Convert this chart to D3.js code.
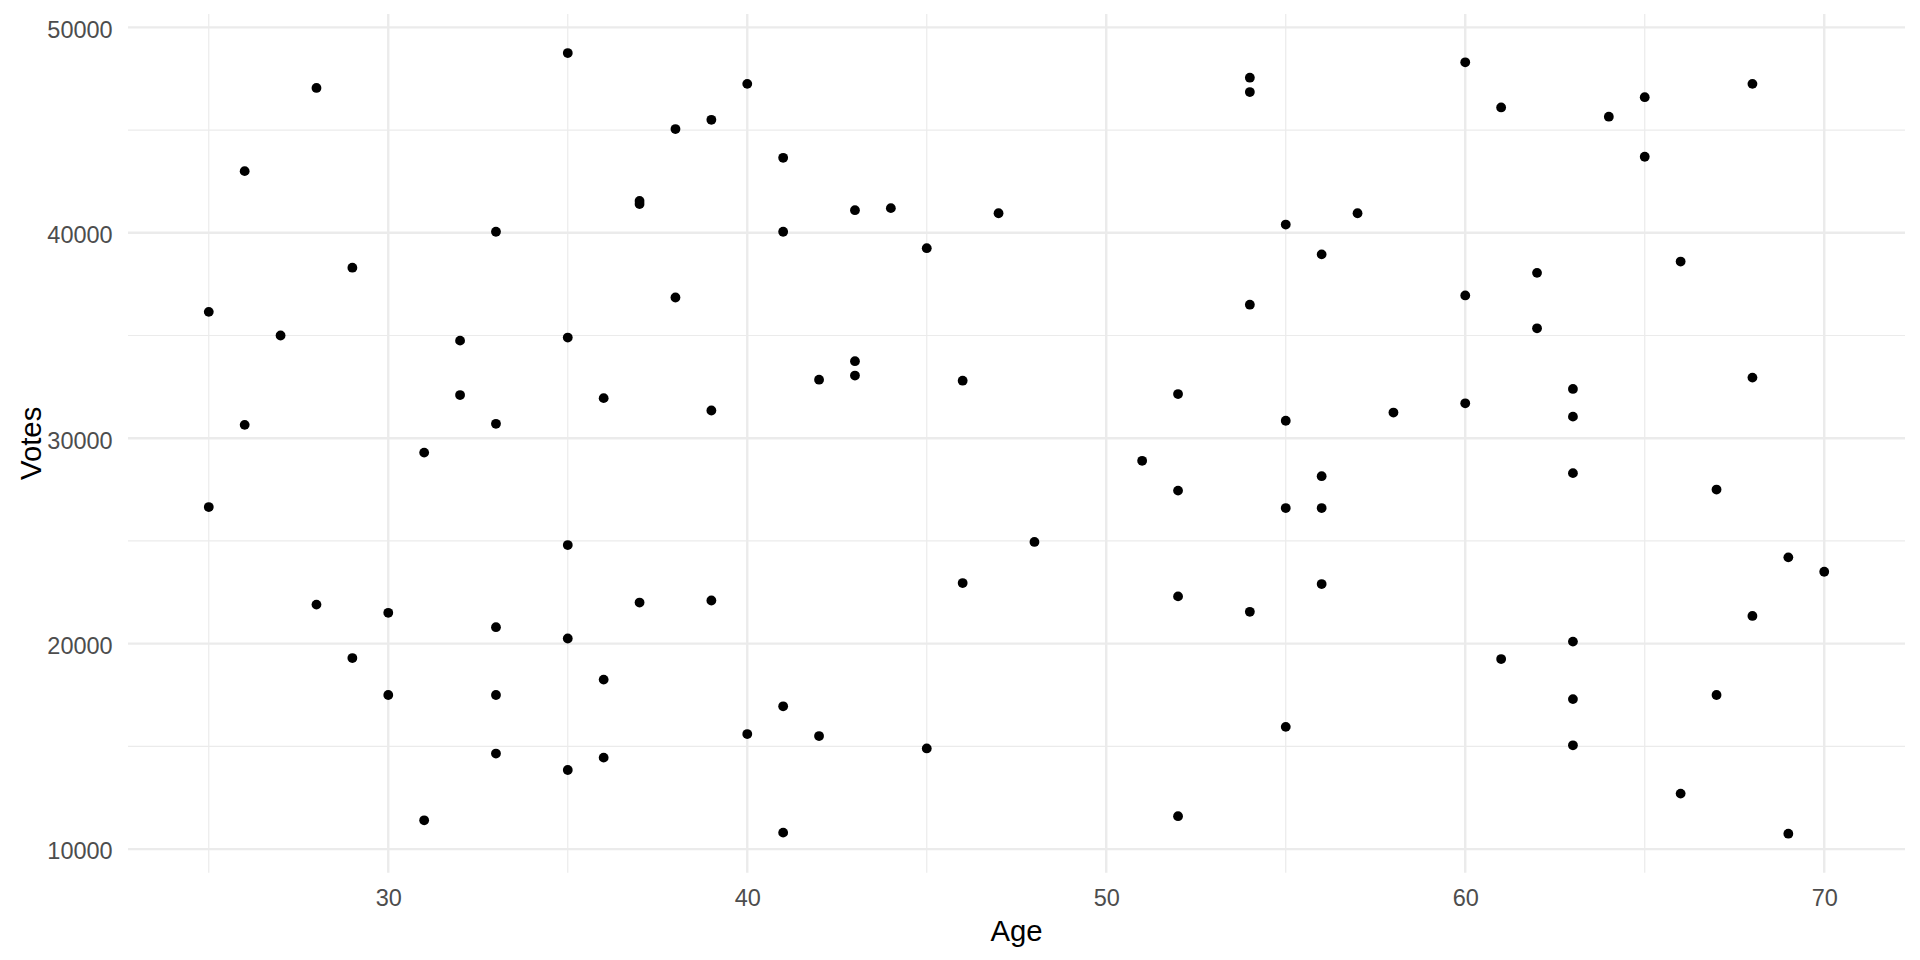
<!DOCTYPE html>
<html>
<head>
<meta charset="utf-8">
<script src="https://cdn.jsdelivr.net/npm/d3@7"></script>
<style>
    html, body { margin: 0; padding: 0; background: #ffffff; }
    svg { display: block; font-family: "Liberation Sans", Arial, sans-serif; }
</style>
</head>
<body>
<svg id="scatter_svg"></svg>
<script>
// ages and votes, one entry per point
const ages = [
    25, 25, 26, 26, 27, 28, 28, 29, 29, 30, 30, 31, 31, 32, 32,
    33, 33, 33, 33, 33, 35, 35, 35, 35, 35, 36, 36, 36, 37, 37, 37,
    38, 38, 39, 39, 39, 40, 40, 41, 41, 41, 41, 42, 42, 43, 43, 43,
    44, 45, 45, 46, 46, 47, 48, 51, 52, 52, 52, 52, 54, 54, 54, 54,
    55, 55, 55, 55, 56, 56, 56, 56, 57, 58, 60, 60, 60, 61, 61, 62, 62,
    63, 63, 63, 63, 63, 63, 64, 65, 65, 66, 66, 67, 67, 68, 68, 68,
    69, 69, 70
];
const votes = [
    36150, 26650, 43000, 30650, 35000, 47050, 21900, 38300, 19300, 21500, 17500, 29300, 11400, 34750, 32100,
    40050, 30700, 20800, 17500, 14650, 48750, 34900, 24800, 20250, 13850, 31950, 18250, 14450, 41550, 41400, 22000,
    45050, 36850, 45500, 31350, 22100, 47250, 15600, 43650, 40050, 16950, 10800, 32850, 15500, 41100, 33750, 33050,
    41200, 39250, 14900, 32800, 22950, 40950, 24950, 28900, 32150, 27450, 22300, 11600, 47550, 46850, 36500, 21550,
    40400, 30850, 26600, 15950, 38950, 28150, 26600, 22900, 40950, 31250, 48300, 36950, 31700, 46100, 19250, 38050, 35350,
    32400, 31050, 28300, 20100, 17300, 15050, 45650, 46600, 43700, 38600, 12700, 27500, 17500, 47250, 32950, 21350,
    24200, 10750, 23500
];

const xMajor = [30, 40, 50, 60, 70];
const xMinor = [25, 35, 45, 55, 65];
const yMajor = [10000, 20000, 30000, 40000, 50000];
const yMinor = [15000, 25000, 35000, 45000];

const points = ages.map((a, i) => ({ age: a, votes: votes[i] }));

drawScatter(points);

function expand(extent) {
    const pad = (extent[1] - extent[0]) * 0.05;
    return [extent[0] - pad, extent[1] + pad];
}

function drawScatter(data) {
    const width = 1920;
    const height = 960;
    const margin = { top: 14, right: 15, bottom: 87.3, left: 128 };
    const innerW = width - margin.left - margin.right;
    const innerH = height - margin.top - margin.bottom;

    const svg = d3.select("#scatter_svg")
        .attr("width", width)
        .attr("height", height);

    const g = svg.append("g")
        .attr("transform", `translate(${margin.left},${margin.top})`);

    const xscale = d3.scaleLinear()
        .domain(expand(d3.extent(data, d => d.age)))
        .range([0, innerW]);

    const yscale = d3.scaleLinear()
        .domain(expand(d3.extent(data, d => d.votes)))
        .range([innerH, 0]);

    // minor grid first, major on top
    g.selectAll(".xminor")
        .data(xMinor)
        .enter().append("line")
        .attr("x1", d => xscale(d)).attr("x2", d => xscale(d))
        .attr("y1", 0).attr("y2", innerH)
        .attr("stroke", "#ebebeb")
        .attr("stroke-width", 1.2);

    g.selectAll(".yminor")
        .data(yMinor)
        .enter().append("line")
        .attr("x1", 0).attr("x2", innerW)
        .attr("y1", d => yscale(d)).attr("y2", d => yscale(d))
        .attr("stroke", "#ebebeb")
        .attr("stroke-width", 1.2);

    g.selectAll(".xmajor")
        .data(xMajor)
        .enter().append("line")
        .attr("x1", d => xscale(d)).attr("x2", d => xscale(d))
        .attr("y1", 0).attr("y2", innerH)
        .attr("stroke", "#ebebeb")
        .attr("stroke-width", 2.4);

    g.selectAll(".ymajor")
        .data(yMajor)
        .enter().append("line")
        .attr("x1", 0).attr("x2", innerW)
        .attr("y1", d => yscale(d)).attr("y2", d => yscale(d))
        .attr("stroke", "#ebebeb")
        .attr("stroke-width", 2.4);

    // axes: labels only, no domain or ticks (theme_minimal look)
    const xAxis = g.append("g")
        .attr("transform", `translate(0,${innerH})`)
        .call(d3.axisBottom(xscale).tickValues(xMajor).tickSize(0).tickPadding(0).tickFormat(d3.format("d")));
    xAxis.select(".domain").remove();
    xAxis.selectAll("text")
        .attr("y", 33.5)
        .attr("dy", null)
        .style("font-size", "23.5px")
        .style("font-family", "'Liberation Sans', Arial, sans-serif")
        .attr("fill", "#4d4d4d");

    const yAxis = g.append("g")
        .call(d3.axisLeft(yscale).tickValues(yMajor).tickSize(0).tickPadding(15.3).tickFormat(d3.format("d")));
    yAxis.select(".domain").remove();
    yAxis.selectAll("text")
        .attr("dy", "0.42em")
        .style("font-size", "23.5px")
        .style("font-family", "'Liberation Sans', Arial, sans-serif")
        .attr("fill", "#4d4d4d");

    g.selectAll("circle")
        .data(data)
        .enter().append("circle")
        .attr("cx", d => xscale(d.age))
        .attr("cy", d => yscale(d.votes))
        .attr("r", 4.9)
        .attr("fill", "#000000");

    svg.append("text")
        .attr("x", margin.left + innerW / 2)
        .attr("y", 941)
        .attr("text-anchor", "middle")
        .style("font-size", "29.3px")
        .attr("fill", "#000000")
        .text("Age");

    svg.append("text")
        .attr("transform", `translate(41,${margin.top + innerH / 2}) rotate(-90)`)
        .attr("text-anchor", "middle")
        .style("font-size", "29.3px")
        .attr("fill", "#000000")
        .text("Votes");
}
</script>
</body>
</html>
